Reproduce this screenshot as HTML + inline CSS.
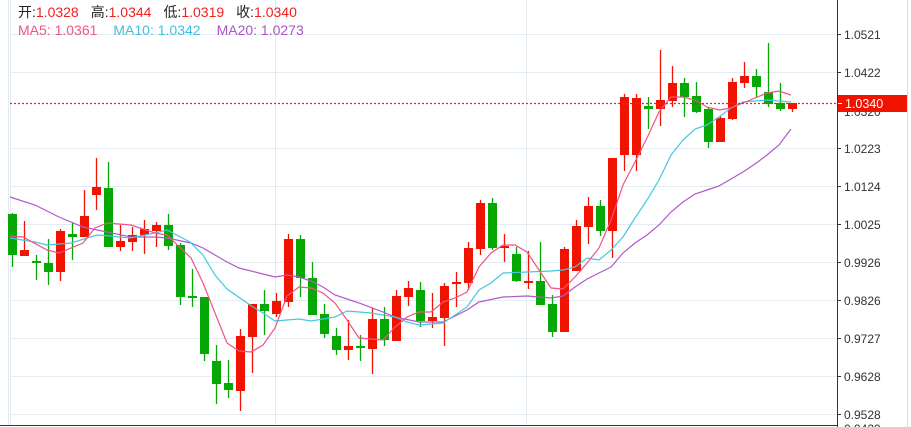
<!DOCTYPE html>
<html><head><meta charset="utf-8"><style>
html,body{margin:0;padding:0;background:#fff;}
svg{display:block;font-family:"Liberation Sans","Noto Sans CJK SC",sans-serif;}
</style></head><body>
<svg id="s" width="911" height="427" xmlns="http://www.w3.org/2000/svg"></svg>
<script>
const C=[
['g',214,255,213,267],['r',250,256,221,256],['g',261,263,255,280],['g',263,272,239,285],['r',231,272,229,281],
['g',234,237,222,260],['r',216,237,190,237],['r',187,195,158,210],['g',188,247,162,247],['r',241,247,225,251],
['r',235,242,227,251],['r',229,235,220,254],['r',225,231,222,247],['g',225,246,214,250],['g',245,297,243,305],
['g',296,298,269,307],['g',297,354,297,361],['g',361,384,345,404],['g',383,390,360,398],['r',336,391,329,411],
['r',304,337,304,373],['g',304,311,290,335],['r',301,314,293,317],['r',239,302,234,307],['g',239,278,235,297],
['g',278,315,262,315],['g',314,334,304,338],['g',336,350,328,355],['r',346,350,320,360],['g',346,348,335,361],
['r',319,349,308,374],['g',319,340,307,346],['r',296,341,290,341],['r',288,297,281,306],['g',290,321,282,327],
['r',317,321,293,328],['r',286,318,283,346],['r',282,284,272,307],['r',248,283,242,290],['r',203,249,200,255],
['g',203,248,198,250],['r',246,248,234,262],['g',254,281,247,282],['r',281,283,251,289],['g',281,305,242,305],
['g',304,332,295,337],['r',249,332,247,332],['r',226,271,220,271],['r',206,227,197,244],['g',206,231,200,236],
['r',158,231,158,258],['r',97,155,94,171],['r',98,155,94,171],['g',106,109,97,129],['r',100,109,50,126],
['r',83,101,66,107],['g',83,97,78,117],['g',96,112,82,113],['g',109,142,107,148],['r',118,142,116,142],
['r',82,119,78,120],['r',76,83,62,88],['g',76,87,69,98],['g',92,104,43,107],['g',103,109,83,111],['r',103,109,103,112]];
const MA5=[[10,236],[23,237],[47,250],[59,253],[83,243],[95,228],[107,223],[131,225],[155,233],[167,235],[191,258],[203,283],[227,343],[239,351],[251,352],[263,345],[275,328],[287,296],[299,287],[311,288],[323,293],[335,303],[347,320],[359,338],[371,339],[383,340],[395,327],[407,317],[419,312],[431,312],[443,302],[455,298],[467,292],[479,267],[491,253],[503,245],[515,245],[527,252],[539,270],[551,288],[563,289],[575,277],[587,263],[599,248],[611,220],[623,185],[635,162],[647,138],[659,112],[671,97],[683,97],[695,100],[707,107],[719,110],[731,108],[743,103],[755,98],[767,93],[779,91],[791,95]];
const MA10=[[10,238],[35,242],[47,245],[71,243],[97,235],[110,236],[130,238],[155,233],[167,230],[190,242],[203,255],[215,275],[227,289],[240,298],[253,307],[263,313],[275,321],[299,319],[311,321],[335,317],[347,311],[371,313],[395,317],[407,322],[419,325],[443,323],[467,307],[479,290],[491,283],[503,273],[527,272],[551,271],[563,270],[575,267],[587,258],[599,260],[611,250],[623,237],[635,218],[647,200],[659,180],[671,155],[683,140],[695,129],[707,125],[719,117],[731,108],[743,102],[755,101],[767,100],[779,101],[791,102]];
const MA20=[[10,197],[35,205],[59,217],[83,227],[107,232],[131,237],[155,237],[167,238],[191,243],[203,248],[227,262],[239,268],[263,274],[275,277],[287,275],[299,277],[311,281],[323,287],[335,295],[359,303],[383,312],[395,317],[419,322],[443,322],[467,310],[479,302],[503,297],[527,296],[551,298],[563,296],[575,287],[587,279],[599,273],[611,267],[623,253],[635,243],[647,235],[659,225],[671,212],[683,202],[695,194],[707,190],[719,186],[731,179],[743,172],[755,164],[767,155],[779,145],[791,129]];
let h='';
const ticks=[['1.0521',34],['1.0422',72],['1.0223',148],['1.0124',186],['1.0025',224],['0.9926',262],['0.9826',300],['0.9727',338],['0.9628',376],['0.9528',414]];
for(const [t,y] of ticks){h+=`<line x1="10" y1="${y+.5}" x2="837" y2="${y+.5}" stroke="#e2ecf2"/>`;h+=`<line x1="837" y1="${y+.5}" x2="841" y2="${y+.5}" stroke="#333"/><text x="844" y="${y+5}" font-size="12" fill="#333">${t}</text>`;}
h+=`<line x1="837" y1="110.5" x2="841" y2="110.5" stroke="#333"/><text x="844" y="116" font-size="12" fill="#333">1.0320</text>`;
for(const x of [10.5,275.5,526.5])h+=`<line x1="${x}" y1="0" x2="${x}" y2="425" stroke="#e2ecf2"/>`;
h+=`<line x1="8.5" y1="0" x2="8.5" y2="425" stroke="#e2ecf2"/>`;
h+=`<line x1="907.5" y1="0" x2="907.5" y2="427" stroke="#ddd"/>`;
C.forEach((c,i)=>{const x=12+12*i;const col=c[0]=='r'?'#f01400':'#05a805';
h+=`<line x1="${x+.5}" y1="${c[3]}" x2="${x+.5}" y2="${c[4]}" stroke="${col}" stroke-width="1.3"/>`;
let t=c[1],b=Math.max(c[2],c[1]+2);h+=`<rect x="${x-4}" y="${t}" width="9" height="${b-t}" fill="${col}"/>`;});
const pl=(p,c)=>`<polyline points="${p.map(q=>q.join(',')).join(' ')}" fill="none" stroke="${c}" stroke-width="1.2"/>`;
h+=pl(MA20,'#b259cc')+pl(MA10,'#44c8e0')+pl(MA5,'#f0528a');
h+=`<line x1="10" y1="103.5" x2="837" y2="103.5" stroke="#f02020" stroke-width="1.2" stroke-dasharray="2,2"/>`;
h+=`<rect x="838" y="95" width="69" height="17" fill="#f01400"/><line x1="837" y1="103.5" x2="842" y2="103.5" stroke="#fff"/><text x="845" y="108" font-size="12.5" fill="#fff">1.0340</text>`;
h+=`<line x1="837.5" y1="0" x2="837.5" y2="427" stroke="#333"/><line x1="0" y1="425.5" x2="837" y2="425.5" stroke="#333"/>`;
h+=`<text x="844" y="433" font-size="12" fill="#333">0.9429</text>`;
h+=`<text x="18" y="17" font-size="14"><tspan fill="#222">开:</tspan><tspan fill="#f02020">1.0328</tspan><tspan fill="#222" dx="12">高:</tspan><tspan fill="#f02020">1.0344</tspan><tspan fill="#222" dx="12">低:</tspan><tspan fill="#f02020">1.0319</tspan><tspan fill="#222" dx="12">收:</tspan><tspan fill="#f02020">1.0340</tspan></text>`;
h+=`<text x="18" y="35" font-size="14"><tspan fill="#ee5588">MA5: 1.0361</tspan><tspan fill="#3ec0dc" dx="16">MA10: 1.0342</tspan><tspan fill="#a855c8" dx="16">MA20: 1.0273</tspan></text>`;
document.getElementById('s').innerHTML=h;
</script>
</body></html>
